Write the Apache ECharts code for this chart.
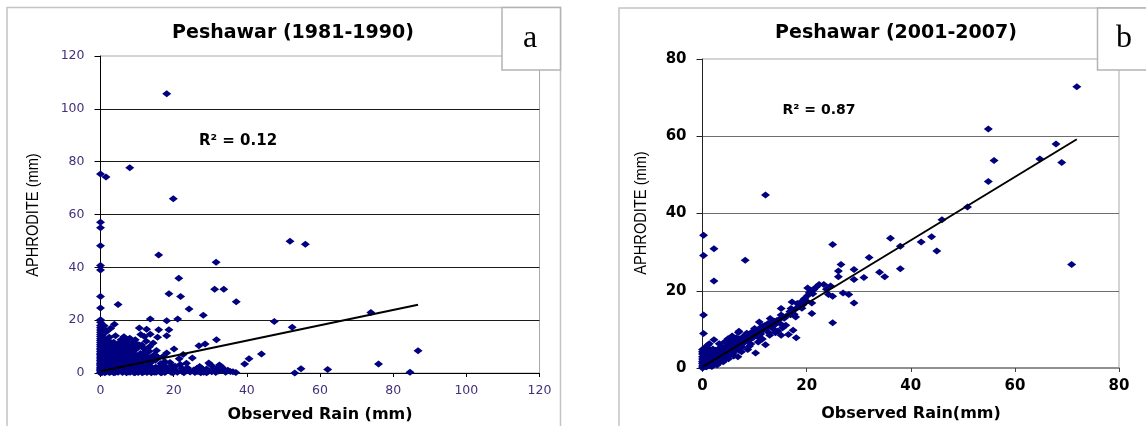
<!DOCTYPE html>
<html>
<head>
<meta charset="utf-8">
<title>Peshawar: APHRODITE vs observed rain</title>
<script src="https://cdn.jsdelivr.net/npm/echarts@6/dist/echarts.min.js"></script>
<style>
  html, body { margin: 0; padding: 0; background: #fff; }
  #chart { width: 1146px; height: 426px; }
</style>
</head>
<body>
<div id="chart"></div>
<script>
// Daily rainfall pairs [observed rain (mm), APHRODITE (mm)] — Peshawar 1981-1990
const pesh8190 = [
  [0,0],[0,0.4],[0,0.9],[0,1.3],[0,1.8],[0,2.2],[0,2.7],[0,3.1],[0,3.6],[0,4.2],[0,4.7],[0,5.3],[0,5.8],[0,6.4],
  [0,7.0],[0,7.5],[0,8.1],[0,8.8],[0,9.4],[0,10.1],[0,10.8],[0,11.5],[0,12.3],[0,13.0],[0,13.8],[0,14.6],[0,15.4],
  [0,16.3],[0,17.1],[0,18.0],[0,19.2],[0,20.2],[0,24.6],[0,29.0],[0,39.0],[0,40.7],[0,48.2],[0,55.0],[0,57.1],[0,75.3],
  [0.4,1.1],[0.5,3.4],[0.6,6.2],[0.3,8.7],[0.7,12.1],[0.5,14.3],[0.8,16.8],[0.6,0.3],[1.0,2.0],[0.9,4.9],[1.1,9.6],
  [1.2,11.0],[0.8,0.8],[1.3,1.6],[1.1,3.9],[1.4,5.7],[1.6,7.3],[1.9,9.8],[2.2,1.0],[2.5,3.5],[2.7,5.1],[2.8,7.9],
  [1.5,0.5],[1.8,2.6],[2.0,4.1],[2.3,6.6],[2.1,8.9],[2.6,10.7],[2.4,13.5],[1.7,15.7],[1.5,74.2],
  [2.9,1.2],[3.2,3.0],[3.0,5.2],[3.4,7.4],[3.1,9.3],[3.6,11.6],[3.8,18.5],[3.3,0.9],[3.5,2.4],[3.7,4.6],[3.9,6.9],
  [4.0,0.2],[4.2,2.1],[4.5,4.4],[4.1,6.0],[4.7,8.2],[4.4,10.0],[4.8,25.9],[4.3,1.7],[4.6,3.2],[4.9,5.1],
  [5.0,1.5],[5.3,3.7],[5.1,5.6],[5.5,7.1],[5.2,9.8],[5.6,10.9],[5.0,10.3],[5.4,2.2],[5.7,4.2],[5.8,6.3],
  [5.9,0.6],[6.1,2.8],[6.3,4.9],[6.0,6.8],[6.5,8.6],[6.2,11.3],[6.4,1.4],[6.6,3.8],[6.7,5.4],
  [6.8,1.9],[7.0,3.3],[7.2,5.9],[6.9,7.7],[7.0,12.2],[7.4,9.1],[7.3,1.7],[7.5,4.1],[7.9,6.7],
  [7.6,0.4],[7.8,2.4],[8.0,4.6],[8.2,6.4],[8.0,13.2],[8.4,8.0],[8.0,77.7],[8.3,2.9],[8.5,5.5],
  [8.6,1.2],[8.9,3.1],[9.1,5.2],[8.8,10.4],[9.3,7.2],[9.0,1.6],[9.4,3.8],[9.9,6.3],
  [9.5,0.2],[9.7,2.0],[10.0,4.0],[10.2,9.8],[10.4,6.1],[10.6,17.0],[10.8,1.0],[11.0,3.0],[11.3,10.6],
  [11.5,5.0],[11.8,0.4],[12.0,7.8],[12.3,2.3],[12.6,16.6],[12.5,12.0],[12.9,4.4],[13.2,0.8],[13.6,20.4],
  [13.6,14.7],[13.4,9.9],[13.8,6.0],[14.1,2.0],[14.4,11.4],[14.7,0.3],[15.0,4.8],[15.3,8.5],[15.6,13.5],
  [15.9,16.4],[15.9,44.7],[16.2,1.4],[16.5,3.6],[16.8,0.2],[17.1,6.2],[17.4,2.8],[17.8,0.6],[18.1,7.6],
  [18.1,14.1],[18.1,19.8],[18.1,105.7],[18.4,1.9],[18.7,16.4],[18.7,30.0],[19.0,4.0],[19.3,0.3],[19.9,66.0],
  [20.1,9.1],[20.4,2.6],[20.7,0.8],[21.1,20.4],[21.4,35.9],[21.5,5.4],[21.9,29.0],[22.2,1.8],[22.6,7.0],
  [23.1,1.3],[23.5,3.7],[24.2,24.2],[25.1,5.7],[26.9,10.3],[27.1,2.5],[28.1,21.9],[28.6,11.0],[28.6,0.9],
  [29.0,1.5],[29.6,3.8],[30.0,3.2],[31.0,2.0],[31.2,31.7],[31.6,41.9],[31.7,12.6],[32.5,3.0],[33.0,2.5],
  [33.7,1.5],[33.7,31.7],[37.1,27.0],[39.4,3.4],[40.6,5.4],[44.0,7.2],[47.5,19.5],[51.8,49.9],[52.4,17.3],
  [53.1,0.0],[54.8,1.6],[56.0,48.7],[62.1,1.3],[73.9,22.9],[76.0,3.4],[84.6,0.25],[86.8,8.4],
  [1.2,0.1],[2.4,0.2],[3.6,0.1],[4.8,0.3],[6.0,0.2],[7.1,0.1],[8.1,0.3],[9.2,0.1],[10.3,0.2],[11.4,0.1],
  [12.7,0.2],[13.9,0.1],[15.2,0.3],[16.5,0.1],[17.6,0.2],[19.8,0.1],[21.0,0.3],[22.8,0.1],[24.5,0.4],
  [25.8,0.2],[26.6,0.6],[27.4,0.1],[28.2,0.3],[29.0,0.1],[30.4,0.5],[31.5,0.2],[32.3,0.8],[34.2,0.3],
  [35.5,0.6],[36.2,0.5],[37.0,0.2],
  [0.3,0.2],[0.5,2.2],[0.7,4.1],[0.4,5.6],[0.6,7.7],[0.9,9.2],[0.4,10.4],[0.6,13.2],[0.9,15.1],[1.1,0.7],
  [1.3,3.1],[1.5,4.5],[1.2,6.9],[1.4,8.4],[1.6,10.3],[1.3,12.7],[1.8,1.2],[2.0,2.0],[1.9,3.3],[2.2,5.0],
  [2.0,6.1],[2.4,7.2],[2.3,9.5],[2.5,11.9],[2.7,0.4],[2.6,1.8],[2.8,2.9],[3.0,4.2],[2.9,6.2],[3.2,8.1],
  [3.3,10.5],[3.5,1.2],[3.4,3.9],[3.7,5.5],[3.9,8.6],[3.8,9.9],[4.1,1.0],[4.0,3.0],[4.3,4.8],[4.5,6.6],
  [4.2,7.5],[4.6,9.1],[4.8,11.1],[5.0,0.8],[5.2,2.9],[5.4,4.6],[5.6,5.9],[5.3,8.5],[5.8,9.4],[5.9,11.8],
  [6.2,1.0],[6.0,3.5],[6.4,5.9],[6.6,7.3],[6.3,9.6],[6.8,10.2],[7.1,0.9],[7.0,2.6],[7.3,4.9],[7.5,6.9],
  [7.2,8.3],[7.7,10.6],[8.0,1.9],[7.9,3.6],[8.3,5.0],[8.5,7.1],[8.2,9.2],[8.7,11.8],[9.0,0.7],[8.9,2.5],
  [9.2,4.5],[9.4,6.5],[9.6,8.9],[9.8,11.0],[10.1,1.5],[10.3,3.2],[10.6,5.4],[10.9,7.4],[10.5,10.7],[11.2,2.1],
  [11.5,3.9],[11.7,6.6],[11.9,9.2],[12.2,1.2],[12.4,4.7],[12.8,6.3],[13.0,2.6],[13.3,8.2],[13.7,3.9],[14.0,5.4],
  [14.3,1.3],[14.8,7.0],[15.1,2.2],[15.5,1.0],[15.8,5.9],[16.3,2.5],[17.0,1.2],[17.6,4.3],[18.0,2.1],[18.6,1.0],
  [19.5,2.8],[20.0,1.4],[21.8,3.2],[22.3,0.6],[23.8,1.9],[25.5,1.1],[26.3,1.7],[27.8,1.6],[29.4,0.6],[30.8,1.2],
  [31.9,1.6],[32.9,1.1],[34.8,1.0],[12.0,13.8],[11.0,14.6],[9.5,12.6],[6.4,13.7],[4.1,14.1],[2.8,16.9],[1.0,17.9],
  [5.6,12.6]
];

// Daily rainfall pairs [observed rain (mm), APHRODITE (mm)] — Peshawar 2001-2007
const pesh0107 = [
  [0,0],[0,0.5],[0,1.1],[0,1.7],[0,2.3],[0,2.9],[0,3.6],[0,4.2],[0,4.8],[0.1,0.2],[0.2,0.6],
  [0.2,8.9],[0.2,13.7],[0.2,29.1],[0.2,34.4],[0.3,0.8],[0.5,1.6],[0.4,2.5],[0.6,3.3],[0.3,4.0],[0.5,5.3],
  [0.7,0.9],[0.8,0.3],[0.9,1.2],[1.0,2.1],[1.1,3.0],[1.2,4.1],[1.0,5.9],[1.3,0.6],[1.5,1.5],[1.6,2.4],
  [1.7,3.6],[1.4,4.8],[1.8,0.4],[1.9,0.9],[2.0,1.9],[2.2,2.9],[2.1,3.9],[2.4,1.2],[2.6,2.3],[2.7,3.4],
  [2.5,4.6],[2.2,7.3],[2.2,22.5],[2.2,30.9],[2.8,0.8],[2.9,1.7],[3.0,2.8],[3.2,3.7],[3.1,5.0],[3.4,2.1],
  [3.6,3.2],[3.5,4.3],[3.8,5.5],[3.9,1.8],[4.1,2.9],[4.2,4.0],[4.4,5.2],[4.3,3.4],[4.6,2.6],[4.8,4.6],
  [4.9,6.0],[4.9,7.6],[5.1,3.5],[5.3,4.9],[5.5,6.3],[5.4,7.4],[5.8,5.3],[5.9,3.9],[6.1,6.9],[6.3,4.6],
  [6.5,7.8],[6.6,5.7],[6.8,2.9],[7.0,4.6],[7.0,9.5],[7.2,6.3],[7.4,7.2],[7.6,5.4],[7.8,8.1],[8.0,6.6],
  [8.2,27.9],[8.3,7.0],[8.5,9.0],[8.7,4.8],[8.9,7.6],[9.0,8.5],[9.3,6.2],[9.5,9.3],[9.7,7.8],[9.9,8.8],
  [10.0,10.2],[10.2,3.9],[10.4,9.0],[10.6,8.1],[10.9,11.9],[11.0,9.6],[11.3,10.6],[11.5,7.5],[11.7,9.9],
  [12.0,11.0],[12.1,6.0],[12.1,44.8],[12.4,10.4],[12.7,9.2],[13.0,12.8],[13.2,11.3],[13.5,10.2],[13.8,12.1],
  [14.1,11.6],[14.5,9.6],[14.8,12.6],[15.1,15.4],[15.1,13.7],[15.1,8.5],[15.4,10.4],[15.7,12.9],[16.0,11.1],
  [16.5,8.7],[16.8,14.6],[17.0,15.4],[17.2,17.1],[17.4,9.8],[17.6,13.9],[17.9,13.2],[18.0,7.8],[18.2,16.7],
  [18.5,15.8],[18.9,17.1],[19.3,16.4],[19.6,18.0],[20.2,20.7],[20.2,18.8],[20.5,19.5],[20.8,20.1],[21.0,14.1],
  [21.0,16.8],[21.2,19.2],[21.4,20.3],[21.8,20.9],[22.4,21.6],[23.3,21.6],[23.8,20.4],[24.2,19.0],[24.6,21.2],
  [25.0,11.7],[25.0,18.6],[25.0,32.0],[26.1,23.6],[26.1,25.1],[26.6,26.8],[27.0,19.4],[28.1,19.0],[29.1,16.8],
  [29.1,22.9],[29.1,25.5],[31.0,23.4],[32.0,28.6],[34.0,24.8],[35.0,23.6],[36.1,33.6],[38.0,25.7],[38.0,31.5],
  [42.0,32.6],[44.0,34.0],[45.0,30.3],[46.0,38.4],[50.9,41.7],[54.9,48.3],[54.9,61.9],[56.0,53.7],[64.8,54.1],
  [67.9,58.0],[69.0,53.2],[70.9,26.8],[71.9,72.8],
  [0.1,1.4],[0.2,2.0],[0.3,3.1],[0.1,3.9],[0.4,4.4],[0.6,0.4],[0.7,1.9],[0.8,2.8],[0.9,3.8],[0.6,4.9],
  [1.2,1.1],[1.3,2.3],[1.4,3.3],[1.1,4.5],[1.7,1.0],[1.8,2.0],[1.6,3.0],[1.9,4.2],[2.3,0.9],[2.3,1.6],
  [2.4,2.6],[2.1,3.4],[2.0,4.9],[2.7,1.2],[2.8,2.0],[3.0,3.2],[2.6,4.0],[3.3,1.4],[3.3,2.5],[3.5,3.6],
  [3.7,2.2],[3.9,3.0],[3.8,4.4],[4.0,1.6],[4.2,3.2],[4.5,3.9],[4.7,4.8],[5.0,4.2],[5.2,5.6],[5.6,4.4],
  [5.7,6.0],[6.0,5.2],[6.2,5.9],[6.4,6.5],[6.7,6.2],[6.9,5.1],[7.1,7.5],[7.3,5.9],[7.7,6.7],[8.1,7.4],
  [8.4,8.2],[8.8,7.2],[9.2,7.9],[9.6,8.0],[10.1,8.7],[10.5,9.8],[10.8,9.3],[11.2,8.8],[11.6,10.8],[12.2,10.2],
  [12.6,11.5],[13.3,10.9],[13.7,11.0],[14.3,12.3],[14.9,11.5],[15.5,13.2],[16.2,13.5],[16.9,13.8],[17.8,15.2],
  [18.6,16.3],[19.1,15.5],[19.9,17.4],[5.0,2.4],[6.0,3.1],[7.5,4.2],[9.0,5.6],[10.7,6.7],[12.9,8.5],[14.0,9.1],
  [3.2,6.3],[4.3,6.8],[5.7,8.3],[6.9,9.2],[1.3,6.3]
];

// Linear fits [intercept, slope]
const trendA = [0.7, 0.29];
const trendB = [0.26, 0.82];

const chartTitles = ['Peshawar (1981-1990)', 'Peshawar (2001-2007)'];
const r2Labels = ['R\u00b2 = 0.12', 'R\u00b2 = 0.87'];
const xNames = ['Observed Rain (mm)', 'Observed Rain(mm)'];
const yName = 'APHRODITE (mm)';
const panelTags = ['a', 'b'];

function fitLine(points, coef) {
  const xMax = Math.max.apply(null, points.map(p => p[0]));
  return [0, xMax].map(x => [x, coef[0] + coef[1] * x]);
}

const navy = '#000080';
const purple = '#44307a';
const sans = 'DejaVu Sans';
const markerSize = [9, 7];

const chart = echarts.init(document.getElementById('chart'), null, { renderer: 'canvas' });

const option = {
  backgroundColor: '#ffffff',
  animation: false,
  grid: [
    { left: 100.5, top: 56, width: 439, height: 317, show: true, borderColor: '#a8a8a8', borderWidth: 1, backgroundColor: 'transparent' },
    { left: 702.5, top: 59, width: 416.5, height: 309, show: true, borderColor: '#a8a8a8', borderWidth: 1, backgroundColor: 'transparent' }
  ],
  xAxis: [
    {
      gridIndex: 0, type: 'value', min: 0, max: 120, interval: 20,
      axisLine: { show: true, onZero: false, lineStyle: { color: '#000', width: 1 } },
      axisTick: { show: true, length: 4, lineStyle: { color: '#000' } },
      axisLabel: { color: purple, fontFamily: sans, fontSize: 12.5, margin: 11 },
      splitLine: { show: false }
    },
    {
      gridIndex: 1, type: 'value', min: 0, max: 80, interval: 20,
      axisLine: { show: true, onZero: false, lineStyle: { color: '#7a7a7a', width: 1.5 } },
      axisTick: { show: true, length: 4, lineStyle: { color: '#444' } },
      axisLabel: { color: '#000', fontFamily: sans, fontWeight: 'bold', fontSize: 15, margin: 11 },
      splitLine: { show: false }
    }
  ],
  yAxis: [
    {
      gridIndex: 0, type: 'value', min: 0, max: 120, interval: 20,
      axisLine: { show: true, onZero: false, lineStyle: { color: '#000', width: 1 } },
      axisTick: { show: true, length: 6, lineStyle: { color: '#000' } },
      axisLabel: { color: purple, fontFamily: sans, fontSize: 12.5, margin: 16 },
      splitLine: { show: true, showMinLine: false, showMaxLine: false, lineStyle: { color: '#1a1a1a', width: 1 } }
    },
    {
      gridIndex: 1, type: 'value', min: 0, max: 80, interval: 20,
      axisLine: { show: true, onZero: false, lineStyle: { color: '#222', width: 1 } },
      axisTick: { show: true, length: 6, lineStyle: { color: '#222' } },
      axisLabel: { color: '#000', fontFamily: sans, fontWeight: 'bold', fontSize: 15, margin: 16 },
      splitLine: { show: true, showMinLine: false, showMaxLine: false, lineStyle: { color: '#6e6e6e', width: 1.2 } }
    }
  ],
  series: [
    {
      type: 'scatter', xAxisIndex: 0, yAxisIndex: 0, data: pesh8190,
      symbol: 'diamond', symbolSize: markerSize, itemStyle: { color: navy, opacity: 1 }, silent: true
    },
    {
      type: 'line', xAxisIndex: 0, yAxisIndex: 0, data: fitLine(pesh8190, trendA),
      symbol: 'none', lineStyle: { color: '#000', width: 2 }, silent: true, z: 3
    },
    {
      type: 'scatter', xAxisIndex: 1, yAxisIndex: 1, data: pesh0107,
      symbol: 'diamond', symbolSize: markerSize, itemStyle: { color: navy, opacity: 1 }, silent: true
    },
    {
      type: 'line', xAxisIndex: 1, yAxisIndex: 1, data: fitLine(pesh0107, trendB),
      symbol: 'none', lineStyle: { color: '#000', width: 2 }, silent: true, z: 3
    }
  ],
  graphic: [
    // panel frames
    { type: 'rect', shape: { x: 7, y: 7.5, width: 553.5, height: 440 }, style: { fill: 'none', stroke: '#c4c4c4', lineWidth: 1.5 }, z: -1 },
    { type: 'rect', shape: { x: 619, y: 8, width: 560, height: 440 }, style: { fill: 'none', stroke: '#c4c4c4', lineWidth: 1.5 }, z: -1 },
    // corner tag boxes
    { type: 'rect', shape: { x: 502, y: 7.5, width: 58.5, height: 62.5 }, style: { fill: '#fff', stroke: '#b4b4b4', lineWidth: 1.5 }, z: 10 },
    { type: 'rect', shape: { x: 1097.5, y: 8, width: 60, height: 62 }, style: { fill: '#fff', stroke: '#b4b4b4', lineWidth: 1.5 }, z: 10 },
    { type: 'text', x: 530, y: 38.5, z: 11, style: { text: panelTags[0], font: '32px "Liberation Serif", "Times New Roman", serif', fill: '#000', textAlign: 'center', textVerticalAlign: 'middle' } },
    { type: 'text', x: 1124, y: 38.5, z: 11, style: { text: panelTags[1], font: '32px "Liberation Serif", "Times New Roman", serif', fill: '#000', textAlign: 'center', textVerticalAlign: 'middle' } },
    // titles
    { type: 'text', x: 293, y: 33, z: 11, style: { text: chartTitles[0], font: 'bold 19px "DejaVu Sans"', fill: '#000', textAlign: 'center', textVerticalAlign: 'middle' } },
    { type: 'text', x: 896, y: 33, z: 11, style: { text: chartTitles[1], font: 'bold 19px "DejaVu Sans"', fill: '#000', textAlign: 'center', textVerticalAlign: 'middle' } },
    // fit statistics
    { type: 'text', x: 238, y: 141, z: 11, style: { text: r2Labels[0], font: 'bold 15px "DejaVu Sans"', fill: '#000', textAlign: 'center', textVerticalAlign: 'middle' } },
    { type: 'text', x: 819, y: 110, z: 11, style: { text: r2Labels[1], font: 'bold 14px "DejaVu Sans"', fill: '#000', textAlign: 'center', textVerticalAlign: 'middle' } },
    // axis names
    { type: 'text', x: 320, y: 415, z: 11, style: { text: xNames[0], font: 'bold 16px "DejaVu Sans"', fill: '#000', textAlign: 'center', textVerticalAlign: 'middle' } },
    { type: 'text', x: 911, y: 414, z: 11, style: { text: xNames[1], font: 'bold 16px "DejaVu Sans"', fill: '#000', textAlign: 'center', textVerticalAlign: 'middle' } },
    // vertical axis names, condensed along the reading direction
    { type: 'text', x: 33, y: 215, rotation: Math.PI / 2, scaleX: 0.86, z: 11, style: { text: yName, font: '17px "Liberation Sans", Arial', fill: '#000', textAlign: 'center', textVerticalAlign: 'middle' } },
    { type: 'text', x: 641, y: 213, rotation: Math.PI / 2, scaleX: 0.86, z: 11, style: { text: yName, font: '17px "Liberation Sans", Arial', fill: '#000', textAlign: 'center', textVerticalAlign: 'middle' } }
  ]
};

chart.setOption(option);
</script>
</body>
</html>
